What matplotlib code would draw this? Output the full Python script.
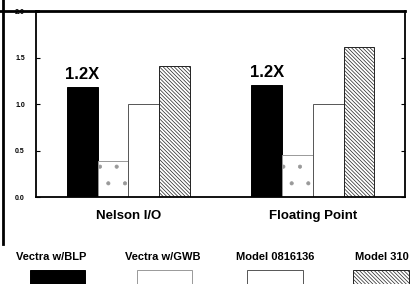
import matplotlib
matplotlib.use("Agg")
import matplotlib.pyplot as plt
from matplotlib.patches import Rectangle
from matplotlib.lines import Line2D

plt.rcParams['font.family'] = ['Liberation Sans', 'DejaVu Sans']
plt.rcParams['hatch.linewidth'] = 0.5

groups = ['Nelson I/O', 'Floating Point']
series = ['Vectra w/BLP', 'Vectra w/GWB', 'Model 0816136', 'Model 310']
values = [
    [1.18, 1.2],   # Vectra w/BLP
    [0.39, 0.45],  # Vectra w/GWB
    [1.0, 1.0],    # Model 0816136
    [1.41, 1.61],  # Model 310
]
notes = ['1.2X', '1.2X']
yticks = [0.0, 0.5, 1.0, 1.5, 2.0]

faces = ['black', 'white', 'white', 'white']
hatches = [None, '.', None, '\\' * 9]
edges = ['black', '#999999', '#555555', '#222222']

fig = plt.figure(figsize=(4.19, 2.84), dpi=100)
ax = fig.add_axes([0.086, 0.306, 0.881, 0.655])

starts = [1, 7]
for s, vals in enumerate(values):
    xs = [g + s + 0.5 for g in starts]
    ax.bar(xs, vals, width=1.0, color=faces[s], edgecolor=edges[s],
           hatch=hatches[s], linewidth=0.7)

for i, g in enumerate(starts):
    ax.text(g + 0.5, values[0][i] + 0.06, notes[i],
            ha='center', va='bottom', fontsize=12, fontweight='bold')

ax.set_xlim(0, 12)
ax.set_ylim(0, 2.0)
ax.set_yticks(yticks)
ax.set_yticklabels(['%.1f' % t for t in yticks], fontsize=5, fontweight='bold')
ax.tick_params(axis='y', direction='in', left=True, right=True, length=3, width=0.8, pad=8)
ax.set_xticks([g + 2 for g in starts])
ax.set_xticklabels(groups, fontsize=9.5, fontweight='bold')
ax.tick_params(axis='x', length=0, pad=9)
for sp in ax.spines.values():
    sp.set_linewidth(1.3)
ax.spines['top'].set_linewidth(2)

# scan frame lines
fig.add_artist(Line2D([0.0, 0.09], [0.961, 0.961], color='black', lw=2))
fig.add_artist(Line2D([0.006, 0.006], [0.14, 1.0], color='black', lw=2))

# legend: label above swatch
lx = [0.122, 0.389, 0.656, 0.912]
px = [0.072, 0.327, 0.59, 0.843]
for s in range(4):
    fig.text(lx[s], 0.095, series[s], ha='center', va='center',
             fontsize=8, fontweight='bold')
    fig.add_artist(Rectangle((px[s], -0.01), 0.132, 0.059, transform=fig.transFigure,
                             facecolor=faces[s], edgecolor=edges[s] if s else 'black',
                             hatch=hatches[s] if s == 3 else None, lw=0.7))

fig.savefig('out.png', dpi=100)
